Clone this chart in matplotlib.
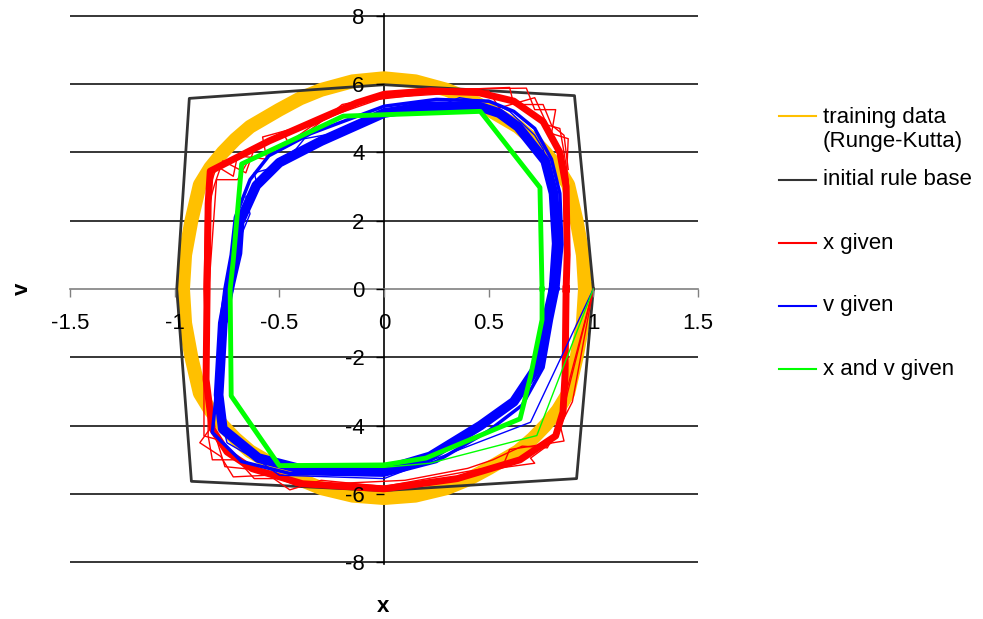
import matplotlib
matplotlib.use('Agg')
import matplotlib.pyplot as plt
from matplotlib.lines import Line2D

plt.rcParams['font.family'] = ['Liberation Sans', 'DejaVu Sans']
plt.rcParams['axes.unicode_minus'] = False

# training data (Runge-Kutta), one closed orbit
gold_x = [0.96, 0.95, 0.92, 0.88, 0.83, 0.77, 0.71, 0.64, 0.5, 0.4, 0.3, 0.15, 0.0,
          -0.15, -0.3, -0.4, -0.5, -0.64, -0.71, -0.77, -0.83, -0.88, -0.92, -0.95, -0.96,
          -0.95, -0.92, -0.88, -0.83, -0.77, -0.71, -0.64, -0.5, -0.4, -0.3, -0.15, 0.0,
          0.15, 0.3, 0.4, 0.5, 0.64, 0.71, 0.77, 0.83, 0.88, 0.92, 0.95, 0.96]
gold_v = [0.0, -1.0, -2.0, -3.05, -3.55, -4.0, -4.38, -4.75, -5.25, -5.58, -5.83, -6.05, -6.12,
          -6.05, -5.83, -5.58, -5.25, -4.75, -4.38, -4.0, -3.55, -3.05, -2.0, -1.0, 0.0,
          1.0, 2.0, 3.05, 3.55, 4.0, 4.38, 4.75, 5.25, 5.58, 5.83, 6.08, 6.17,
          6.08, 5.83, 5.58, 5.25, 4.75, 4.38, 4.0, 3.55, 3.05, 2.0, 1.0, 0.0]

# initial rule base
rule_x = [1.0, 0.92, 0.0, -0.92, -0.99, -0.93, 0.0, 0.91, 1.0]
rule_v = [0.0, -5.55, -5.9, -5.63, 0.0, 5.58, 5.98, 5.66, 0.0]

# x given: settled cycle and start-up loops
red_x = [0.87, 0.865, 0.855, 0.82, 0.65, 0.35, 0.0, -0.39, -0.63, -0.75, -0.82, -0.85,
         -0.845, -0.84, -0.83, -0.55, -0.3, -0.13, 0.0, 0.22, 0.45, 0.62, 0.76, 0.84,
         0.87, 0.875, 0.87]
red_v = [0.0, -2.5, -3.6, -4.3, -5.0, -5.55, -5.85, -5.7, -5.26, -4.77, -4.1, -2.65,
         0.0, 2.5, 3.45, 4.33, 5.0, 5.45, 5.7, 5.8, 5.75, 5.5, 4.9, 4.0,
         3.0, 1.0, 0.0]
red_t1_x = [1.0, 0.84, 0.86, 0.6, 0.57, 0.3, 0.0, -0.3, -0.45, -0.55, -0.72, -0.78, -0.88,
            -0.82, -0.86, -0.85, -0.84, -0.81, -0.77, -0.66, -0.62, -0.48, -0.45, -0.3,
            -0.2, 0.0, 0.3, 0.68, 0.72, 0.82, 0.8, 0.88, 0.87, 0.875]
red_t1_v = [0.0, -3.95, -4.45, -4.7, -5.15, -5.45, -5.78, -5.6, -5.88, -5.45, -5.5, -4.9, -4.5,
            -4.0, -2.6, 0.0, 2.4, 3.05, 3.75, 3.4, 4.1, 4.55, 4.2, 4.9,
            5.4, 5.65, 5.85, 5.88, 5.25, 5.25, 4.55, 4.4, 3.0, 0.0]
red_t2_x = [1.0, 0.9, 0.8, 0.7, 0.72, 0.48, 0.2, -0.2, -0.5, -0.62, -0.7, -0.82, -0.84,
            -0.84, -0.86, -0.85, -0.8, -0.72, -0.7, -0.56, -0.58, -0.4, 0.0, 0.5, 0.55,
            0.72, 0.78, 0.84, 0.86, 0.88, 0.87]
red_t2_v = [0.0, -3.3, -4.5, -4.95, -5.1, -5.3, -5.7, -5.85, -5.55, -5.55, -5.0, -5.0, -4.3,
            -3.0, 0.0, 2.6, 3.6, 3.3, 3.9, 3.8, 4.45, 4.75, 5.6, 5.8, 5.3,
            5.6, 4.8, 4.7, 4.0, 3.2, 0.0]
red_t3_x = [1.0, 0.82, 0.78, 0.66, 0.52, 0.4, 0.1, -0.42, -0.6, -0.76, -0.8, -0.86,
            -0.86, -0.8, -0.7, -0.64, -0.52, -0.35, -0.1, 0.4, 0.6, 0.62, 0.76, 0.8,
            0.86, 0.88]
red_t3_v = [0.0, -4.2, -4.65, -4.6, -5.0, -5.25, -5.6, -5.75, -5.3, -5.2, -4.4, -4.3,
            -2.0, 3.2, 3.2, 3.85, 4.0, 4.75, 5.5, 5.85, 5.9, 5.4, 5.4, 4.8,
            4.5, 3.5]

# v given: two settled loops and a start-up loop
blue_x = [0.81, 0.78, 0.74, 0.62, 0.46, 0.22, 0.0, -0.39, -0.6, -0.77, -0.79, -0.77,
          -0.74, -0.7, -0.69, -0.61, -0.5, -0.3, 0.0, 0.2, 0.45, 0.55, 0.64, 0.77, 0.81,
          0.825, 0.81]
blue_v = [0.0, -0.8, -2.2, -3.3, -4.0, -4.9, -5.3, -5.28, -4.95, -4.1, -3.1, -1.0,
          0.0, 1.05, 1.95, 3.03, 3.7, 4.33, 5.15, 5.35, 5.35, 5.15, 4.75, 3.75, 2.8,
          1.33, 0.0]
blue_b_x = [0.83, 0.8, 0.76, 0.66, 0.5, 0.25, 0.0, -0.45, -0.68, -0.82, -0.8, -0.78,
            -0.76, -0.73, -0.71, -0.64, -0.55, -0.35, 0.0, 0.25, 0.5, 0.62, 0.72, 0.8,
            0.84, 0.85, 0.83]
blue_b_v = [0.0, -0.9, -2.3, -3.4, -4.15, -5.05, -5.45, -5.4, -5.05, -4.2, -3.0, -1.0,
            0.0, 1.0, 2.1, 3.2, 3.9, 4.55, 5.35, 5.55, 5.5, 5.2, 4.7, 3.8, 2.8,
            1.3, 0.0]
blue_t_x = [1.0, 0.7, 0.0, -0.5, -0.58, -0.75, -0.8, -0.76, -0.72, -0.7, -0.64, -0.66,
            -0.6, -0.62, -0.56, -0.42, -0.38, -0.2, 0.0, 0.3, 0.36, 0.52, 0.6, 0.72, 0.76,
            0.82, 0.81, 0.78, 0.74, 0.76, 0.71, 0.62]
blue_t_v = [0.0, -3.9, -5.55, -5.45, -5.1, -4.5, -3.2, -1.0, 0.0, 1.3, 2.2, 2.7,
            2.9, 3.4, 3.5, 4.1, 4.4, 4.6, 5.05, 5.45, 5.6, 5.45, 5.2, 4.5, 4.1,
            2.6, 0.0, -1.5, -1.7, -2.0, -2.7, -3.3]

# x and v given
green_x = [0.755, 0.755, 0.70, 0.65, 0.2, 0.0, -0.5, -0.73, -0.735, -0.72, -0.68,
           -0.195, 0.46, 0.745, 0.755]
green_v = [0.0, -0.9, -2.56, -3.8, -4.95, -5.15, -5.17, -3.13, 0.0, 0.84, 3.66,
           5.06, 5.2, 2.97, 0.0]
green_t_x = [1.0, 0.73, 0.22, 0.0, -0.5]
green_t_v = [0.0, -4.29, -5.1, -5.22, -5.2]

xticks = [-1.5, -1.0, -0.5, 0.0, 0.5, 1.0, 1.5]
xtick_labels = ['-1.5', '-1', '-0.5', '0', '0.5', '1', '1.5']
yticks = [-8, -6, -4, -2, 0, 2, 4, 6, 8]

legend_labels = ['training data\n(Runge-Kutta)', 'initial rule base', 'x given',
                 'v given', 'x and v given']
colors = ['#FFC000', '#333333', '#FF0000', '#0000FF', '#00FF00']

fig = plt.figure(figsize=(9.83, 6.19), dpi=100)
ax = fig.add_axes([70 / 983, 1 - 564 / 619, 628 / 983, 550 / 619])

for y in yticks:
    if y != 0:
        ax.axhline(y, color='black', lw=1.1, zorder=0.5)

ax.plot(gold_x, gold_v, color=colors[0], lw=10, solid_joinstyle='round', zorder=2)
ax.plot(rule_x, rule_v, color=colors[1], lw=2, zorder=2.1)
ax.plot(red_x, red_v, color=colors[2], lw=5, solid_joinstyle='round', zorder=2.2)
for tx, tv in [(red_t1_x, red_t1_v), (red_t2_x, red_t2_v), (red_t3_x, red_t3_v)]:
    ax.plot(tx, tv, color=colors[2], lw=1, zorder=2.2)
ax.plot(blue_x, blue_v, color=colors[3], lw=7, solid_joinstyle='round', zorder=2.3)
ax.plot(blue_b_x, blue_b_v, color=colors[3], lw=2.5, solid_joinstyle='round', zorder=2.3)
ax.plot(blue_t_x, blue_t_v, color=colors[3], lw=1, zorder=2.3)
ax.plot(green_x, green_v, color=colors[4], lw=3.5, solid_joinstyle='round', zorder=2.4)
ax.plot(green_t_x, green_t_v, color=colors[4], lw=1, zorder=2.4)

ax.set_xlim(-1.5, 1.5)
ax.set_ylim(-8.05, 8.05)
ax.set_xticks(xticks)
ax.set_xticklabels(xtick_labels)
ax.set_yticks(yticks)
ax.set_yticklabels([str(y) for y in yticks])

ax.spines['top'].set_visible(False)
ax.spines['right'].set_visible(False)
ax.spines['left'].set_position(('data', 0))
ax.spines['bottom'].set_position(('data', 0))
ax.spines['left'].set_color('black')
ax.spines['left'].set_linewidth(1.2)
ax.spines['bottom'].set_color('#808080')
ax.spines['bottom'].set_linewidth(1.2)
ax.spines['left'].set_zorder(1)
ax.spines['bottom'].set_zorder(1)
ax.set_axisbelow(False)
ax.patch.set_visible(False)

ax.tick_params(axis='x', direction='out', length=6, width=1, color='#808080',
               labelsize=16, pad=11)
ax.tick_params(axis='y', direction='out', length=6, width=1, color='black',
               labelsize=16, pad=8)

fig.text(383 / 983, 1 - 607 / 619, 'x', fontsize=16, fontweight='bold',
         ha='center', va='center')
fig.text(22 / 983, 1 - 289 / 619, 'v', fontsize=16, fontweight='bold',
         ha='center', va='center', rotation=90)

# legend on the right
legend_y = [116, 180, 243, 306, 369]
for label, col, y in zip(legend_labels, colors, legend_y):
    fy = 1 - y / 619
    fig.add_artist(Line2D([779 / 983, 816 / 983], [fy, fy], color=col, lw=1.5))
    if '\n' in label:
        fig.text(823 / 983, 1 - (y + 13.5) / 619, label, fontsize=16,
                 ha='left', va='center', linespacing=1.15)
    else:
        fig.text(823 / 983, fy, label, fontsize=16, ha='left', va='center')

fig.savefig('out.png', dpi=100)
